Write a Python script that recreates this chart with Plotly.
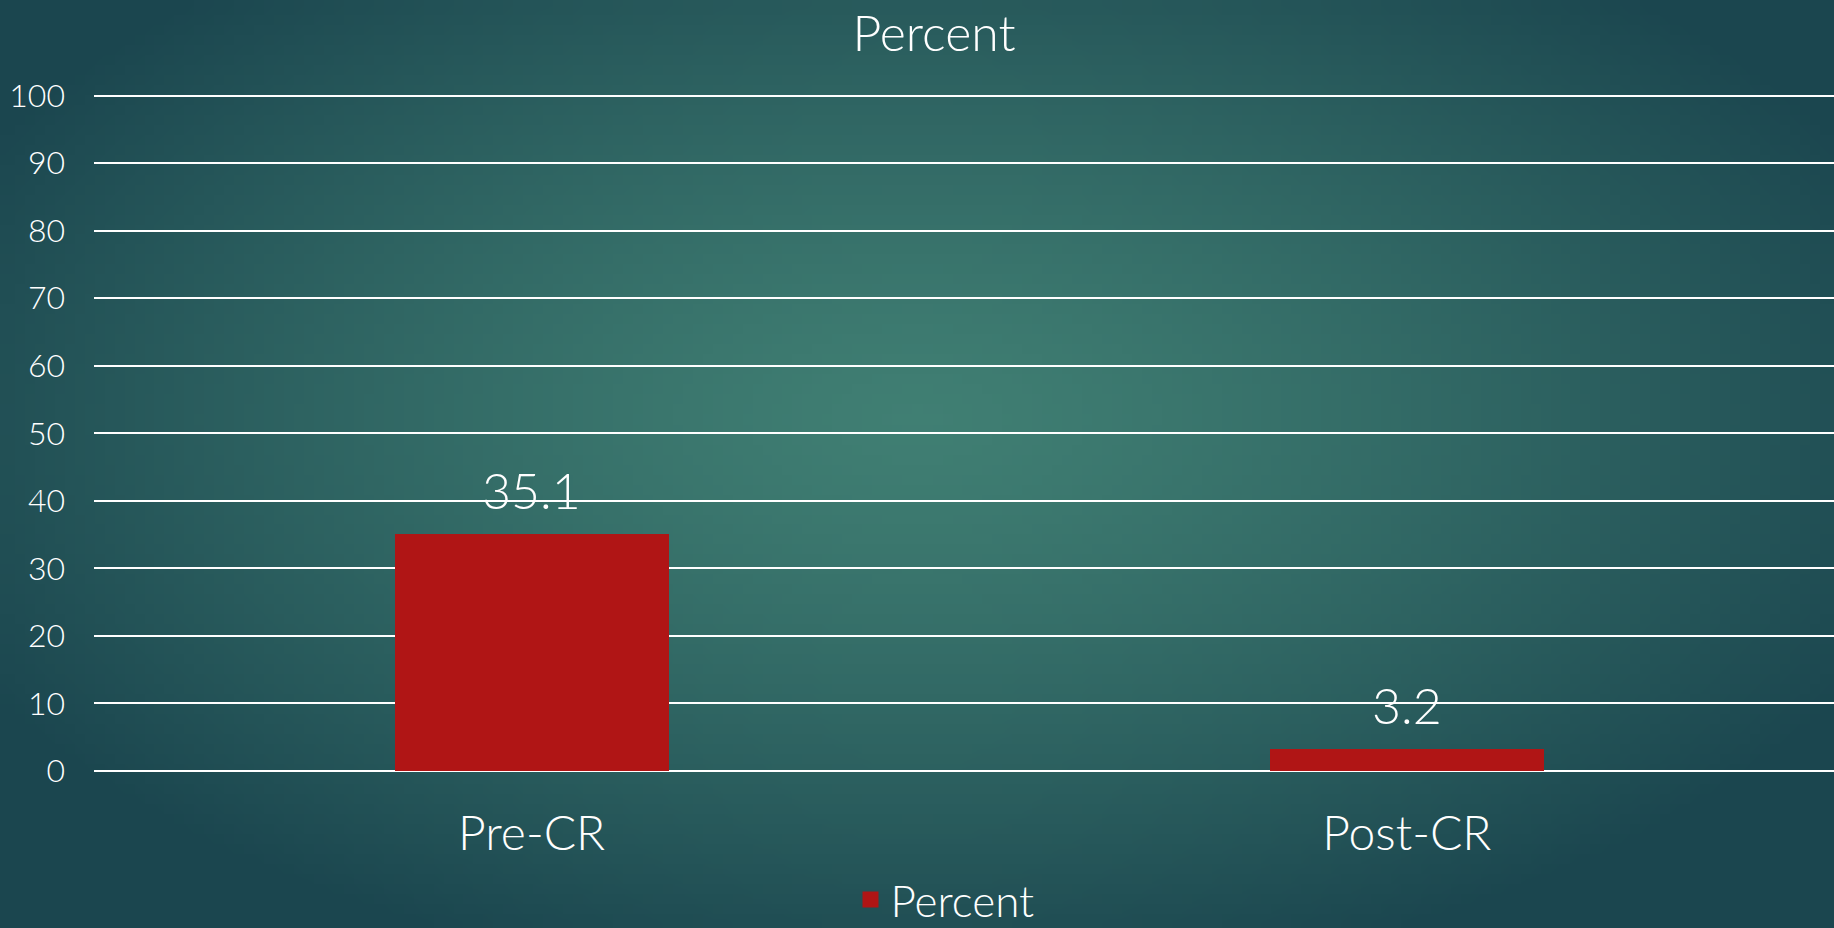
import base64, struct, zlib
import plotly.graph_objects as go

# ---------------- data ----------------
categories = ["Pre-CR", "Post-CR"]
values = [35.1, 3.2]
series_name = "Percent"
chart_title = "Percent"
y_ticks = [0, 10, 20, 30, 40, 50, 60, 70, 80, 90, 100]

# ---------------- layout constants ----------------
W, H = 1834, 928
Y_MAX = 100.25
ML, MR, MB = 94, 0, 157
MT = round(H - MB - 675 * Y_MAX / 100)
FONT = "Lato, 'Open Sans', sans-serif"
BAR_COLOR = "#B01515"


# ---------------- background gradient (radial teal) ----------------
def make_png(w, h):
    c_center = (64, 127, 115)
    c_edge = (27, 70, 79)
    cx, cy = 0.5, 0.45
    rows = []
    for j in range(h):
        row = bytearray([0])
        fy = (j + 0.5) / h
        for i in range(w):
            fx = (i + 0.5) / w
            d = (((fx - cx) / 0.58) ** 2 + ((fy - cy) / 0.62) ** 2) ** 0.5
            t = min(d, 1.0) ** 1.3
            row += bytes(int(round(a + (b - a) * t)) for a, b in zip(c_center, c_edge))
        rows.append(bytes(row))
    raw = b"".join(rows)

    def chunk(tag, data):
        c = struct.pack(">I", len(data)) + tag + data
        return c + struct.pack(">I", zlib.crc32(tag + data) & 0xFFFFFFFF)

    png = b"\x89PNG\r\n\x1a\n"
    png += chunk(b"IHDR", struct.pack(">IIBBBBB", w, h, 8, 2, 0, 0, 0))
    png += chunk(b"IDAT", zlib.compress(raw, 9))
    png += chunk(b"IEND", b"")
    return "data:image/png;base64," + base64.b64encode(png).decode()


bg_src = make_png(184, 93)

pw = W - ML - MR
ph = H - MT - MB

fig = go.Figure()
fig.add_trace(go.Bar(
    x=categories, y=values, name=series_name,
    marker=dict(color=BAR_COLOR, line=dict(width=0)),
    width=0.313, showlegend=False,
))
# legend entry with a larger square swatch
fig.add_trace(go.Scatter(
    x=[None], y=[None], name=series_name, mode="markers",
    marker=dict(symbol="square", size=22, color=BAR_COLOR),
    showlegend=True, hoverinfo="skip",
))

annotations = [
    dict(x=c, y=v, xref="x", yref="y", text=f"{v}", showarrow=False,
         yanchor="bottom", yshift=12,
         font=dict(family=FONT, size=50, color="white", weight=300))
    for c, v in zip(categories, values)
]

fig.update_layout(
    width=W, height=H,
    margin=dict(l=ML, r=MR, t=MT, b=MB, autoexpand=False),
    paper_bgcolor="#1c4a52",
    plot_bgcolor="rgba(0,0,0,0)",
    font=dict(family=FONT, color="white", weight=300),
    title=dict(text=chart_title, xref="container", yref="container",
               x=934 / W, xanchor="center", y=1 - 33 / H, yanchor="middle",
               font=dict(family=FONT, size=50, color="white", weight=300)),
    images=[dict(source=bg_src, xref="paper", yref="paper",
                 x=-ML / pw, y=1 + MT / ph, sizex=W / pw, sizey=H / ph,
                 xanchor="left", yanchor="top", sizing="stretch",
                 layer="below")],
    xaxis=dict(type="category", range=[-0.5, 1.488], showgrid=False,
               zeroline=False, showline=False, ticks="",
               tickfont=dict(family=FONT, size=48, color="white", weight=300),
               ticklabelstandoff=30),
    yaxis=dict(range=[0, Y_MAX], tickvals=y_ticks, showgrid=True,
               gridcolor="white", gridwidth=2, zeroline=True,
               zerolinecolor="white", zerolinewidth=2, showline=False,
               ticks="", tickfont=dict(family=FONT, size=32, color="white", weight=300),
               ticklabelstandoff=28),
    legend=dict(orientation="h", xref="container", yref="paper",
                x=945 / W, xanchor="center", y=-(900 - (H - MB)) / ph,
                yanchor="middle",
                font=dict(family=FONT, size=44, color="white", weight=300),
                bgcolor="rgba(0,0,0,0)", itemwidth=30),
    annotations=annotations,
    bargap=0,
)

fig.write_html("out.html")
